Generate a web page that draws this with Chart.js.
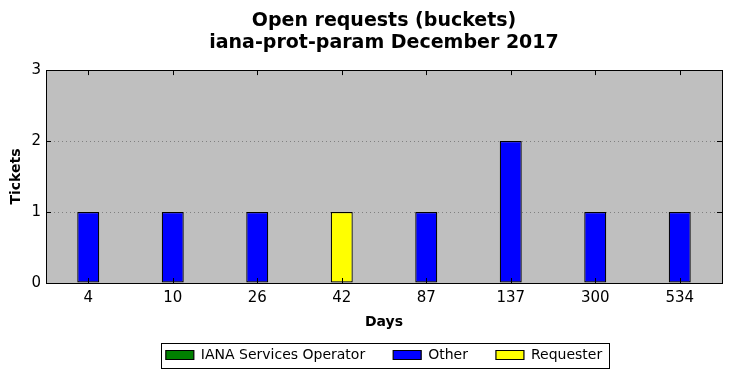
<!DOCTYPE html>
<html>
<head>
<meta charset="utf-8">
<script src="https://cdn.jsdelivr.net/npm/chart.js@4/dist/chart.umd.min.js"></script>
<style>
  html, body { margin: 0; padding: 0; background: #ffffff; }
  #wrap { width: 731px; height: 378px; }
</style>
</head>
<body>
<div id="wrap"><canvas id="c" width="731" height="378"></canvas></div>
<script>
const categories = ["4", "10", "26", "42", "87", "137", "300", "534"];
const ianaServicesOperator = [0, 0, 0, 0, 0, 0, 0, 0];
const other = [1, 1, 1, 0, 1, 2, 1, 1];
const requester = [0, 0, 0, 1, 0, 0, 0, 0];
const yTicks = [0, 1, 2, 3];
const titleLines = ["Open requests (buckets)", "iana-prot-param December 2017"];

const FONT = "'DejaVu Sans', sans-serif";

const plotDecor = {
  id: 'plotDecor',
  beforeDraw(chart) {
    const a = chart.chartArea, ctx = chart.ctx;
    ctx.save();
    ctx.fillStyle = '#bfbfbf';
    ctx.fillRect(a.left, a.top, a.right - a.left, a.bottom - a.top);
    ctx.restore();
  },
  afterDatasetsDraw(chart) {
    const a = chart.chartArea, ctx = chart.ctx;
    const xs = chart.scales.x, ys = chart.scales.y;
    ctx.save();
    ctx.strokeStyle = '#000000';
    ctx.lineWidth = 1;
    ctx.beginPath();
    xs.ticks.forEach((t, i) => {
      const px = Math.round(xs.getPixelForTick(i)) + 0.5;
      ctx.moveTo(px, a.top); ctx.lineTo(px, a.top + 5);
      ctx.moveTo(px, a.bottom); ctx.lineTo(px, a.bottom - 5);
    });
    ys.ticks.forEach((t, i) => {
      const py = Math.round(ys.getPixelForTick(i)) + 0.5;
      ctx.moveTo(a.left, py); ctx.lineTo(a.left + 5, py);
      ctx.moveTo(a.right, py); ctx.lineTo(a.right - 5, py);
    });
    ctx.stroke();
    ctx.strokeRect(Math.round(a.left) + 0.5, Math.round(a.top) + 0.5,
                   Math.round(a.right - a.left), Math.round(a.bottom - a.top));
    ctx.restore();
  },
  afterDraw(chart) {
    const lg = chart.legend;
    if (!lg || !lg.legendHitBoxes || !lg.legendHitBoxes.length) return;
    const hb = lg.legendHitBoxes;
    const first = hb[0], last = hb[hb.length - 1];
    const ctx = chart.ctx;
    ctx.save();
    ctx.strokeStyle = '#000000';
    ctx.lineWidth = 1;
    const l = Math.round(first.left - 5) + 0.5;
    const r = Math.round(last.left + last.width + 7) + 0.5;
    const t = Math.round(first.top - 5) + 0.5;
    const b = Math.round(first.top + 20) + 0.5;
    ctx.strokeRect(l, t, r - l, b - t);
    ctx.restore();
  }
};

new Chart(document.getElementById('c'), {
  type: 'bar',
  data: {
    labels: categories,
    datasets: [
      { label: 'IANA Services Operator', data: ianaServicesOperator, backgroundColor: '#008000', borderColor: '#000000', borderWidth: 1.2, borderSkipped: false },
      { label: 'Other', data: other, backgroundColor: '#0000ff', borderColor: '#000000', borderWidth: 1.2, borderSkipped: false },
      { label: 'Requester', data: requester, backgroundColor: '#ffff00', borderColor: '#000000', borderWidth: 1.2, borderSkipped: false }
    ]
  },
  options: {
    responsive: false,
    animation: false,
    devicePixelRatio: 1,
    layout: { padding: { left: 0, right: 9, top: 0, bottom: 6 } },
    datasets: { bar: { barPercentage: 0.26, categoryPercentage: 1.0 } },
    plugins: {
      title: {
        display: true,
        fullSize: false,
        text: titleLines,
        color: '#000000',
        font: { family: FONT, size: 19, weight: 'bold', lineHeight: 1.16 },
        padding: { top: 10, bottom: 16 }
      },
      legend: {
        display: true,
        position: 'bottom',
        fullSize: false,
        labels: {
          color: '#000000',
          font: { family: FONT, size: 14 },
          boxWidth: 28,
          boxHeight: 9,
          padding: 28
        }
      },
      tooltip: { enabled: false }
    },
    scales: {
      x: {
        stacked: true,
        grid: { display: false, drawTicks: false },
        border: { display: false },
        ticks: { color: '#000000', font: { family: FONT, size: 15 }, padding: 6, maxRotation: 0 },
        title: { display: true, text: 'Days', color: '#000000', font: { family: FONT, size: 14, weight: 'bold' }, padding: { top: 0, bottom: -11 } },
        afterFit(s) { s.height = 37; }
      },
      y: {
        stacked: true,
        min: 0,
        max: 3,
        afterBuildTicks(s) { s.ticks = yTicks.map(v => ({ value: v })); },
        grid: {
          drawTicks: false,
          color: (c) => (c.tick && (c.tick.value === 0 || c.tick.value === 3)) ? 'rgba(0,0,0,0)' : '#808080',
          lineWidth: 1
        },
        border: { display: false, dash: [1, 3] },
        ticks: { color: '#000000', font: { family: FONT, size: 15 }, padding: 5, stepSize: 1 },
        title: { display: true, text: 'Tickets', color: '#000000', font: { family: FONT, size: 14, weight: 'bold' }, padding: { top: 8, bottom: 0 } },
        afterFit(s) { s.width = 46; }
      }
    }
  },
  plugins: [plotDecor]
});
</script>
</body>
</html>
